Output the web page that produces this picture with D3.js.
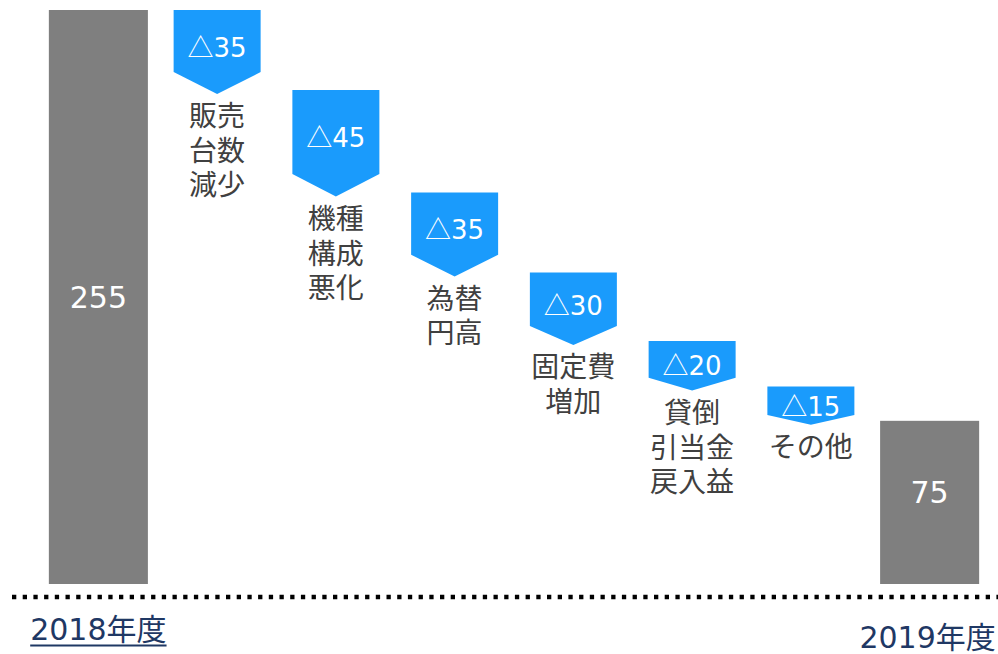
<!DOCTYPE html>
<html>
<head>
<meta charset="utf-8">
<script src="https://cdn.jsdelivr.net/npm/d3@7"></script>
<style>
  body { margin: 0; background: #fff; }
</style>
</head>
<body>
<svg class="chart" width="998" height="654"></svg>
<script>
// chart values
const startLabel = "2018年度";
const endLabel = "2019年度";
const startValue = 255;
const endValue = 75;
const deltas = [35, 45, 35, 30, 20, 15];
const deltaLabels = [
    ["販売", "台数", "減少"],
    ["機種", "構成", "悪化"],
    ["為替", "円高"],
    ["固定費", "増加"],
    ["貸倒", "引当金", "戻入益"],
    ["その他"]
];

const blue = "#1a9bfc",
    grey = "#7f7f7f",
    textGrey = "#404040",
    navy = "#1f3864";

var svg = d3.select(".chart");

var keys = d3.range(deltas.length + 2);
var x = d3.scaleBand().domain(keys).range([39, 989])
    .paddingInner(0.166).paddingOuter(0.083);
var y = d3.scaleLinear().domain([0, 255]).range([592, 10]);
var barBottom = y(0) - 8;

// running level for each step
var level = startValue;
var steps = deltas.map(function(d, k) {
    var s = { i: k + 1, from: level, to: level - d, d: d, lines: deltaLabels[k] };
    level -= d;
    return s;
});

var totals = [
    { i: 0, v: startValue, label: startLabel, base: 640, shift: 0, underline: true },
    { i: keys.length - 1, v: endValue, label: endLabel, base: 648, shift: -2, underline: false }
];

// total bars
svg.selectAll("rect.total")
    .data(totals)
    .enter().append("rect")
    .attr("class", "total")
    .attr("x", function(d) { return x(d.i); })
    .attr("y", function(d) { return y(d.v); })
    .attr("width", x.bandwidth())
    .attr("height", function(d) { return barBottom - y(d.v); })
    .attr("fill", grey);

svg.selectAll("text.totalval")
    .data(totals)
    .enter().append("text")
    .attr("class", "totalval")
    .attr("x", function(d) { return x(d.i) + x.bandwidth() / 2; })
    .attr("y", function(d) { return (y(d.v) + barBottom) / 2 + 11 - (d.v < 100 ? 10 : 0); })
    .attr("text-anchor", "middle")
    .attr("font-family", "DejaVu Sans")
    .attr("font-size", 30)
    .attr("fill", "#fff")
    .text(function(d) { return d.v; });

// pentagon steps
var pw = 87;
steps.forEach(function(s) {
    var cx = x(s.i) + x.bandwidth() / 2;
    var top = y(s.from);
    var tip = y(s.to) + 4;
    var depth = 0.26 * Math.min(pw, tip - top);
    s.cx = cx; s.top = top; s.tip = tip; s.depth = depth;
});

svg.selectAll("path.step")
    .data(steps)
    .enter().append("path")
    .attr("class", "step")
    .attr("d", function(s) {
        var l = s.cx - pw / 2, r = s.cx + pw / 2;
        return "M" + l + "," + s.top + "L" + r + "," + s.top +
            "L" + r + "," + (s.tip - s.depth) + "L" + s.cx + "," + s.tip +
            "L" + l + "," + (s.tip - s.depth) + "Z";
    })
    .attr("fill", blue);

var vt = svg.selectAll("text.stepval")
    .data(steps)
    .enter().append("text")
    .attr("class", "stepval")
    .attr("x", function(s) { return s.cx; })
    .attr("y", function(s) { return (s.top + s.tip - s.depth) / 2 + 6 + 9.5; })
    .attr("text-anchor", "middle")
    .attr("font-size", 26)
    .attr("fill", "#fff");
vt.append("tspan").attr("font-family", "Noto Sans CJK JP").text("△");
vt.append("tspan").attr("font-family", "DejaVu Sans").text(function(s) { return s.d; });

// category labels under each step, one text per line
var lines = [];
steps.forEach(function(s) {
    s.lines.forEach(function(t, j) { lines.push({ t: t, j: j, s: s }); });
});
svg.selectAll("text.steplabel")
    .data(lines)
    .enter().append("text")
    .attr("class", "steplabel")
    .attr("x", function(d) { return d.s.cx; })
    .attr("y", function(d) { return d.s.tip + 22 + 10.5 + d.j * 34.5; })
    .attr("text-anchor", "middle")
    .attr("font-family", "Noto Sans CJK JP")
    .attr("font-size", 28)
    .attr("fill", textGrey)
    .text(function(d) { return d.t; });

// dotted base line
svg.append("line")
    .attr("x1", 12).attr("x2", 998)
    .attr("y1", 597).attr("y2", 597)
    .attr("stroke", "#000")
    .attr("stroke-width", 4.5)
    .attr("stroke-dasharray", "4.3,6.4");

// year labels
var yl = svg.selectAll("text.year")
    .data(totals)
    .enter().append("text")
    .attr("class", "year")
    .attr("x", function(d) { return x(d.i) + x.bandwidth() / 2 + d.shift; })
    .attr("y", function(d) { return d.base; })
    .attr("text-anchor", "middle")
    .attr("font-family", "DejaVu Sans, Noto Sans CJK JP")
    .attr("font-size", 30)
    .attr("fill", navy)
    .text(function(d) { return d.label; });

yl.each(function(d) {
    if (!d.underline) return;
    var b = this.getBBox();
    svg.append("line")
        .attr("x1", b.x).attr("x2", b.x + b.width)
        .attr("y1", d.base + 5.5).attr("y2", d.base + 5.5)
        .attr("stroke", navy)
        .attr("stroke-width", 2);
});
</script>
</body>
</html>
